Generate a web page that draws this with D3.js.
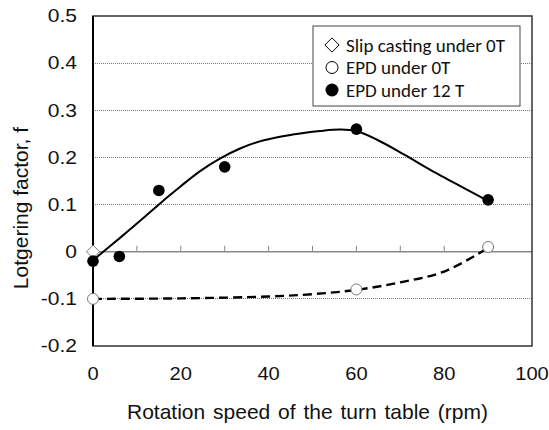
<!DOCTYPE html>
<html>
<head>
<meta charset="utf-8">
<script src="https://cdn.jsdelivr.net/npm/d3@7"></script>
<style>
  html, body { margin: 0; padding: 0; background: #fff; }
  svg { display: block; }
  .axis-text { font-family: "Liberation Sans", Arial, sans-serif; fill: #111; }
  .legend-text { font-family: Carlito, Calibri, Lato, "Open Sans", sans-serif; fill: #111; }
</style>
</head>
<body>
<div id="chart"></div>
<script>
// measured points
const slipCasting0T = [{ x: 0, y: 0 }];
const epd0T = [{ x: 0, y: -0.10 }, { x: 60, y: -0.08 }, { x: 90, y: 0.01 }];
const epd12T = [
  { x: 0, y: -0.02 }, { x: 6, y: -0.01 }, { x: 15, y: 0.13 },
  { x: 30, y: 0.18 }, { x: 60, y: 0.26 }, { x: 90, y: 0.11 }
];
// guide curves
const trend12T = [
  [0, -0.018], [6.5, 0.032], [11.8, 0.074], [17, 0.116], [20, 0.139], [24.4, 0.171],
  [29, 0.198], [33.5, 0.219], [38, 0.234], [42.6, 0.244], [47.2, 0.251], [51.7, 0.256],
  [56.3, 0.259], [60, 0.256], [64.6, 0.238], [70.7, 0.207], [78.3, 0.166], [88.9, 0.113], [90, 0.107]
];
const trend0T = [
  [0, -0.10], [20, -0.099], [40, -0.095], [50, -0.09], [60, -0.081],
  [70, -0.065], [80, -0.042], [90, 0.008]
];
const xTicks = [0, 20, 40, 60, 80, 100];
const xMinorTicks = [10, 20, 30, 40, 50, 60, 70, 80, 90];
const yTicks = [-0.2, -0.1, 0, 0.1, 0.2, 0.3, 0.4, 0.5];
const yGrid = [-0.1, 0.1, 0.2, 0.3, 0.4];
const legendItems = ["Slip casting under 0T", "EPD under 0T", "EPD under 12 T"];

const W = 549, H = 430;
const plot = { left: 93, right: 532, top: 16, bottom: 346 };

const svg = d3.select("#chart").append("svg").attr("width", W).attr("height", H);
const x = d3.scaleLinear().domain([0, 100]).range([plot.left, plot.right]);
const y = d3.scaleLinear().domain([-0.2, 0.5]).range([plot.bottom, plot.top]);

// dotted gridlines
svg.append("g").selectAll("line").data(yGrid).join("line")
  .attr("x1", plot.left).attr("x2", plot.right)
  .attr("y1", d => y(d)).attr("y2", d => y(d))
  .attr("stroke", "#777").attr("stroke-width", 1).attr("stroke-dasharray", "1,1")
  .attr("shape-rendering", "crispEdges");

// zero line with ticks pointing up
svg.append("line")
  .attr("x1", plot.left).attr("x2", plot.right).attr("y1", y(0)).attr("y2", y(0))
  .attr("stroke", "#888").attr("stroke-width", 1.5);
svg.append("g").selectAll("line").data(xMinorTicks).join("line")
  .attr("x1", d => x(d)).attr("x2", d => x(d))
  .attr("y1", y(0)).attr("y2", y(0) - 6)
  .attr("stroke", "#888").attr("stroke-width", 1);

// frame
svg.append("rect")
  .attr("x", plot.left).attr("y", plot.top)
  .attr("width", plot.right - plot.left).attr("height", plot.bottom - plot.top)
  .attr("fill", "none").attr("stroke", "#333").attr("stroke-width", 1.5);
svg.append("line")
  .attr("x1", plot.left).attr("x2", plot.left).attr("y1", plot.top).attr("y2", plot.bottom)
  .attr("stroke", "#000").attr("stroke-width", 2);

// tick labels (the source figure is a little stretched sideways)
svg.append("g").selectAll("text").data(yTicks).join("text")
  .attr("class", "axis-text")
  .attr("transform", d => `translate(77,${y(d)}) scale(1.2,1)`)
  .attr("dy", "0.36em")
  .attr("text-anchor", "end").attr("font-size", 17.5)
  .text(d => String(+d.toFixed(1)));
svg.append("g").selectAll("text").data(xTicks).join("text")
  .attr("class", "axis-text")
  .attr("transform", d => `translate(${x(d)},380) scale(1.15,1)`)
  .attr("text-anchor", "middle").attr("font-size", 17.5)
  .text(d => d);

// axis titles
svg.append("text").attr("class", "axis-text")
  .attr("x", 307.5).attr("y", 419)
  .attr("text-anchor", "middle").attr("font-size", 21)
  .attr("word-spacing", 2)
  .text("Rotation speed of the turn table (rpm)");
svg.append("text").attr("class", "axis-text")
  .attr("transform", "translate(28,208) rotate(-90)")
  .attr("text-anchor", "middle").attr("font-size", 21)
  .text("Lotgering factor, f");

// curves
const line = d3.line().x(d => x(d[0])).y(d => y(d[1])).curve(d3.curveCatmullRom.alpha(0.5));
svg.append("path").datum(trend12T).attr("d", line)
  .attr("fill", "none").attr("stroke", "#000").attr("stroke-width", 2);
svg.append("path").datum(trend0T).attr("d", line)
  .attr("fill", "none").attr("stroke", "#000").attr("stroke-width", 2.4)
  .attr("stroke-dasharray", "9,5");

// markers
const diamond = d3.symbol().type(d3.symbolDiamond2).size(110);
svg.append("g").selectAll("path").data(slipCasting0T).join("path")
  .attr("transform", d => `translate(${x(d.x)},${y(d.y)})`)
  .attr("d", diamond).attr("fill", "#fff").attr("stroke", "#777").attr("stroke-width", 1);
svg.append("g").selectAll("circle").data(epd0T).join("circle")
  .attr("cx", d => x(d.x)).attr("cy", d => y(d.y)).attr("r", 5.5)
  .attr("fill", "#fff").attr("stroke", "#777").attr("stroke-width", 1);
svg.append("g").selectAll("circle").data(epd12T).join("circle")
  .attr("cx", d => x(d.x)).attr("cy", d => y(d.y)).attr("r", 5.8)
  .attr("fill", "#000");

// legend
const lg = svg.append("g");
lg.append("rect").attr("x", 313).attr("y", 26).attr("width", 207).attr("height", 80)
  .attr("fill", "#fff").attr("stroke", "#444").attr("stroke-width", 1);
const rows = lg.selectAll("g").data(legendItems).join("g")
  .attr("transform", (d, i) => `translate(332,${45 + i * 22.5})`);
rows.append("text").attr("class", "legend-text")
  .attr("x", 14).attr("dy", "0.35em").attr("font-size", 19).text(d => d);
rows.filter((d, i) => i === 0).append("path")
  .attr("d", d3.symbol().type(d3.symbolDiamond2).size(130))
  .attr("fill", "#fff").attr("stroke", "#000").attr("stroke-width", 1);
rows.filter((d, i) => i === 1).append("circle").attr("r", 6)
  .attr("fill", "#fff").attr("stroke", "#000").attr("stroke-width", 1);
rows.filter((d, i) => i === 2).append("circle").attr("r", 6.5).attr("fill", "#000");
</script>
</body>
</html>
